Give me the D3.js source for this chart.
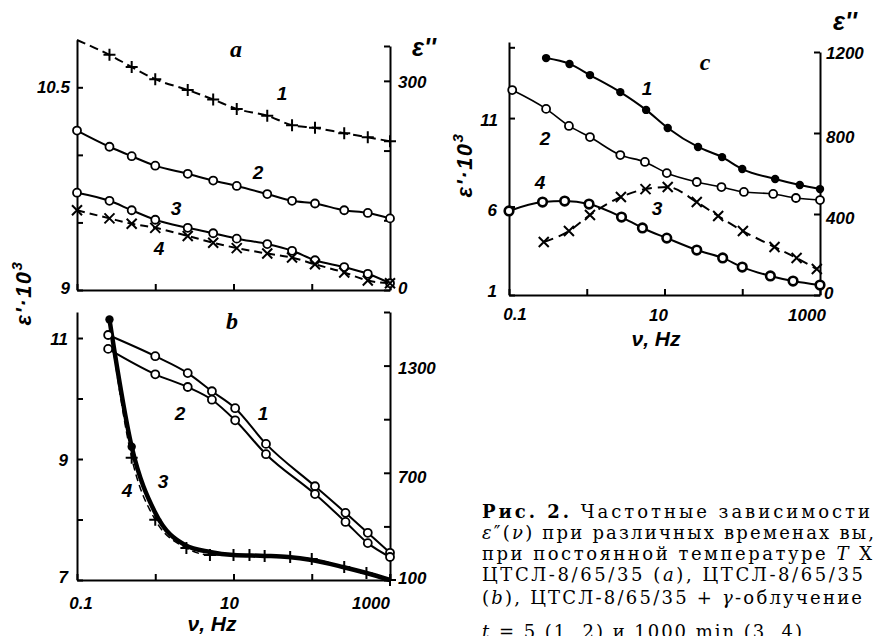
<!DOCTYPE html>
<html>
<head>
<meta charset="utf-8">
<script src="https://cdn.jsdelivr.net/npm/d3@7"></script>
<style>
  body { margin: 0; background: #fff; }
  .lbl { font-family: "Liberation Sans", Arial, sans-serif; font-style: italic; font-weight: bold; font-size: 17px; fill: #000; }
  .cap { font-family: "DejaVu Serif", serif; font-size: 18px; fill: #000; }
</style>
</head>
<body>
<svg id="chart" width="875" height="636"></svg>
<script>
// ---- data ----
// panel a (all on left axis, eps' * 10^3)
var aNu = [0.1, 0.26, 0.5, 1, 2.6, 5.5, 11, 27, 56, 110, 260, 520, 1000];
var a1 = [10.85, 10.74, 10.65, 10.56, 10.48, 10.41, 10.34, 10.29, 10.22, 10.20, 10.16, 10.13, 10.10];
var a2 = [10.18, 10.06, 9.99, 9.92, 9.86, 9.81, 9.77, 9.71, 9.66, 9.64, 9.59, 9.57, 9.53];
var a3 = [9.72, 9.66, 9.59, 9.52, 9.46, 9.42, 9.38, 9.34, 9.29, 9.22, 9.17, 9.12, 9.05];
var a4 = [9.59, 9.53, 9.49, 9.46, 9.40, 9.35, 9.31, 9.27, 9.24, 9.19, 9.13, 9.07, 9.05];

// panel b: 1,2 on left axis (eps'), 3,4 on right axis (eps'')
var bNu12 = [0.25, 1, 2.6, 5.3, 10.5, 26, 110, 270, 520, 1000];
var b1 = [11.05, 10.70, 10.42, 10.12, 9.84, 9.25, 8.55, 8.11, 7.78, 7.45];
var b2 = [10.82, 10.40, 10.19, 9.98, 9.64, 9.08, 8.42, 7.96, 7.61, 7.38];
var bNu3 = [0.26, 0.5, 1, 2.4, 5, 10, 25, 50, 100, 250, 500, 1000];
var b3 = [1558, 846, 476, 296, 257, 240, 235, 229, 212, 173, 139, 100];
var bNu4 = [0.26, 0.5, 1, 2.5, 5, 10, 16, 25, 53, 100, 260, 500, 1000];
var b4 = [1540, 784, 437, 279, 240, 240, 240, 235, 229, 218, 173, 139, 100];

// panel c (all on right axis, eps'')
var cNu1 = [0.3, 0.6, 1.1, 2.7, 5.8, 11, 27, 55, 100, 265, 550, 1000];
var c1 = [1170, 1141, 1086, 1002, 914, 825, 731, 681, 622, 573, 543, 523];
var cNu2 = [0.11, 0.3, 0.59, 1.1, 2.7, 5.6, 10.7, 26, 54, 105, 250, 490, 1000];
var c2 = [1012, 919, 835, 780, 691, 657, 602, 558, 533, 509, 499, 479, 469];
var cNu3 = [0.28, 0.59, 1.1, 2.75, 5.7, 11, 26, 49, 102, 260, 500, 910];
var c3 = [262, 316, 395, 484, 523, 533, 459, 390, 316, 237, 183, 128];
var cNu4 = [0.1, 0.27, 0.52, 1.07, 2.8, 5.2, 10.7, 26, 56, 100, 230, 450, 1000];
var c4 = [415, 459, 464, 449, 385, 331, 281, 222, 183, 138, 94, 69, 49];

// ticks
var xTicks = [0.1, 1, 10, 100, 1000];
var xLabels = ['0.1', '10', '1000'];
var aLTicks = [9, 9.5, 10, 10.5];
var aRTicks = [0, 100, 200, 300, 350];
var bLTicks = [7, 8, 9, 10, 11];
var bRTicks = [100, 400, 700, 1000, 1300, 1600];
var cLTicks = [1, 6, 11, 15];
var cRTicks = [0, 400, 800, 1200];

// caption lines: segments [text, style] (b = bold, i = italic)
var caption = [
  [['Рис. 2.', 'b'], [' Частотные зависимости', '']],
  [['ε', 'i'], ['″(', ''], ['ν', 'i'], [') при различных временах вы,', '']],
  [['при постоянной температуре ', ''], ['T', 'i'], [' X', '']],
  [['ЦТСЛ-8/65/35 (', ''], ['a', 'i'], ['), ЦТСЛ-8/65/35', '']],
  [['(', ''], ['b', 'i'], ['), ЦТСЛ-8/65/35 + ', ''], ['γ', 'i'], ['-облучение', '']],
  [['t', 'i'], [' = 5 (1, 2) и 1000 min (3, 4)', '']]
];

var svg = d3.select('#chart');

// scales
var xA = d3.scaleLog().domain([0.1, 1000]).range([77, 390]);
var xC = d3.scaleLog().domain([0.1, 1000]).range([509, 820]);
var yAL = d3.scaleLinear().domain([9, 10.85]).range([290, 40]);
var yAR = d3.scaleLinear().domain([0, 350]).range([290, 46]);
var yBL = d3.scaleLinear().domain([7, 11.43]).range([580, 312]);
var yBR = d3.scaleLinear().domain([100, 1600]).range([580, 312]);
var yCL = d3.scaleLinear().domain([1, 15.3]).range([295, 42]);
var yCR = d3.scaleLinear().domain([0, 1200]).range([295, 52]);

function axis(gen, tx, ty, ticks) {
  var g = svg.append('g').attr('transform', 'translate(' + tx + ',' + ty + ')')
    .call(gen.tickValues(ticks).tickSize(-6).tickSizeOuter(0).tickFormat(''));
  g.select('.domain').attr('stroke-width', 2);
  g.selectAll('.tick line').attr('stroke-width', 2);
}

axis(d3.axisBottom(xA), 0, 290, xTicks);
axis(d3.axisLeft(yAL), 77, 0, aLTicks);
axis(d3.axisRight(yAR), 390, 0, aRTicks);
axis(d3.axisBottom(xA), 0, 580, xTicks);
axis(d3.axisLeft(yBL), 77, 0, bLTicks);
axis(d3.axisRight(yBR), 390, 0, bRTicks);
axis(d3.axisBottom(xC), 0, 295, xTicks);
axis(d3.axisLeft(yCL), 509, 0, cLTicks);
axis(d3.axisRight(yCR), 820, 0, cRTicks);

function marker(p, type) {
  var g = svg.append('g').attr('transform', 'translate(' + p[0] + ',' + p[1] + ')');
  if (type === 'open') {
    g.append('circle').attr('r', 4).attr('fill', '#fff').attr('stroke', '#000').attr('stroke-width', 1.8);
  } else if (type === 'ring') {
    g.append('circle').attr('r', 4.3).attr('fill', '#fff').attr('stroke', '#000').attr('stroke-width', 2.6);
  } else if (type === 'dot') {
    g.append('circle').attr('r', 4.2).attr('fill', '#000');
  } else if (type === 'plus') {
    g.append('path').attr('d', 'M-6,0H6M0,-6V6').attr('stroke', '#000').attr('stroke-width', 2);
  } else if (type === 'x') {
    g.append('path').attr('d', 'M-5,-5L5,5M-5,5L5,-5').attr('stroke', '#000').attr('stroke-width', 2);
  }
}

var line = d3.line().curve(d3.curveMonotoneX);
function series(xs, ys, xs_, ys_, o) {
  var pts = xs.map(function (v, i) { return [xs_(v), ys_(ys[i])]; });
  svg.append('path').attr('d', line(pts)).attr('fill', 'none').attr('stroke', '#000')
    .attr('stroke-width', o.w || 2).attr('stroke-dasharray', o.dash || null);
  pts.forEach(function (p, i) {
    if (i < (o.from || 0)) return;
    if (o.upto !== undefined && i > o.upto) return;
    marker(p, o.mark);
  });
}

series(aNu, a1, xA, yAL, { mark: 'plus', dash: '9,5', from: 1 });
series(aNu, a2, xA, yAL, { mark: 'open' });
series(aNu, a3, xA, yAL, { mark: 'open' });
series(aNu, a4, xA, yAL, { mark: 'x', dash: '8,5' });

series(bNu4, b4, xA, yBR, { mark: 'plus', dash: '7,4', w: 1.5, from: 1 });
series(bNu3, b3, xA, yBR, { mark: 'dot', w: 4.5, upto: 1 });
series(bNu12, b1, xA, yBL, { mark: 'open' });
series(bNu12, b2, xA, yBL, { mark: 'open' });

series(cNu1, c1, xC, yCR, { mark: 'dot' });
series(cNu2, c2, xC, yCR, { mark: 'open', w: 1.6 });
series(cNu3, c3, xC, yCR, { mark: 'x', dash: '10,6' });
series(cNu4, c4, xC, yCR, { mark: 'ring' });

// ---- text ----
function txt(x, y, s, anchor, size, cls) {
  return svg.append('text').attr('class', cls || 'lbl').attr('x', x).attr('y', y)
    .attr('text-anchor', anchor || 'start').style('font-size', (size || 17) + 'px').text(s);
}

// tick labels
txt(70, yAL(10.5) + 6, '10.5', 'end');
txt(70, yAL(9) + 4, '9', 'end');
txt(398, yAR(300) + 7, '300');
txt(398, yAR(0) + 4, '0');

txt(68, yBL(11) + 7, '11', 'end');
txt(68, yBL(9) + 7, '9', 'end');
txt(68, yBL(7) + 3, '7', 'end');
txt(398, yBR(1300) + 8, '1300');
txt(398, yBR(700) + 10, '700');
txt(398, yBR(100) + 4, '100');
txt(xA(0.1) + 4, 609, xLabels[0], 'middle');
txt(xA(10) - 4, 609, xLabels[1], 'middle');
txt(xA(1000) - 19, 609, xLabels[2], 'middle');

txt(498, yCL(11) + 8, '11', 'end');
txt(497, yCL(6) + 9, '6', 'end');
txt(497, yCL(1) + 2, '1', 'end');
txt(826, yCR(1200) + 7, '1200');
txt(826, yCR(800) + 10, '800');
txt(826, yCR(400) + 10, '400');
txt(824, yCR(0) + 4, '0');
txt(xC(0.1) + 6, 320, xLabels[0], 'middle');
txt(xC(10) - 6, 321, xLabels[1], 'middle');
txt(xC(1000) - 13, 321, xLabels[2], 'middle');

// axis titles
txt(212, 631, 'ν, Hz', 'middle', 21);
txt(656, 346, 'ν, Hz', 'middle', 21);
txt(424, 56, 'ε\'\'', 'middle', 25);
txt(845, 30, 'ε\'\'', 'middle', 25);

function epsTitle(cx, cy) {
  var t = svg.append('text').attr('class', 'lbl').style('font-size', '22px')
    .attr('text-anchor', 'middle').attr('letter-spacing', 1.5)
    .attr('transform', 'translate(' + cx + ',' + cy + ') rotate(-90)');
  t.append('tspan').text('ε\'·10');
  t.append('tspan').attr('dy', -9).style('font-size', '15px').text('3');
}
epsTitle(31, 293);
epsTitle(472, 165);

// panel letters
txt(236, 57, 'a', 'middle', 24).style('font-family', '"Liberation Serif", serif');
txt(232, 329, 'b', 'middle', 24).style('font-family', '"Liberation Serif", serif');
txt(705, 70, 'c', 'middle', 24).style('font-family', '"Liberation Serif", serif');

// curve numbers
[[282, 100, '1'], [258, 179, '2'], [176, 215, '3'], [159, 255, '4'],
 [263, 420, '1'], [180, 420, '2'], [163, 488, '3'], [127, 497, '4'],
 [647, 95, '1'], [545, 145, '2'], [657, 215, '3'], [540, 189, '4']]
  .forEach(function (d) { txt(d[0], d[1], d[2], 'middle', 19); });

// caption
var capY = [518, 539, 560, 581, 604, 638];
var capW = [388, 392, 390, 381, 380, 320];
caption.forEach(function (segs, i) {
  var t = svg.append('text').attr('class', 'cap').attr('x', 482).attr('y', capY[i])
    .attr('textLength', capW[i]).attr('lengthAdjust', 'spacing');
  segs.forEach(function (s) {
    var sp = t.append('tspan').text(s[0]);
    if (s[1] === 'b') sp.style('font-weight', 'bold');
    if (s[1] === 'i') sp.style('font-style', 'italic');
  });
});
</script>
</body>
</html>
